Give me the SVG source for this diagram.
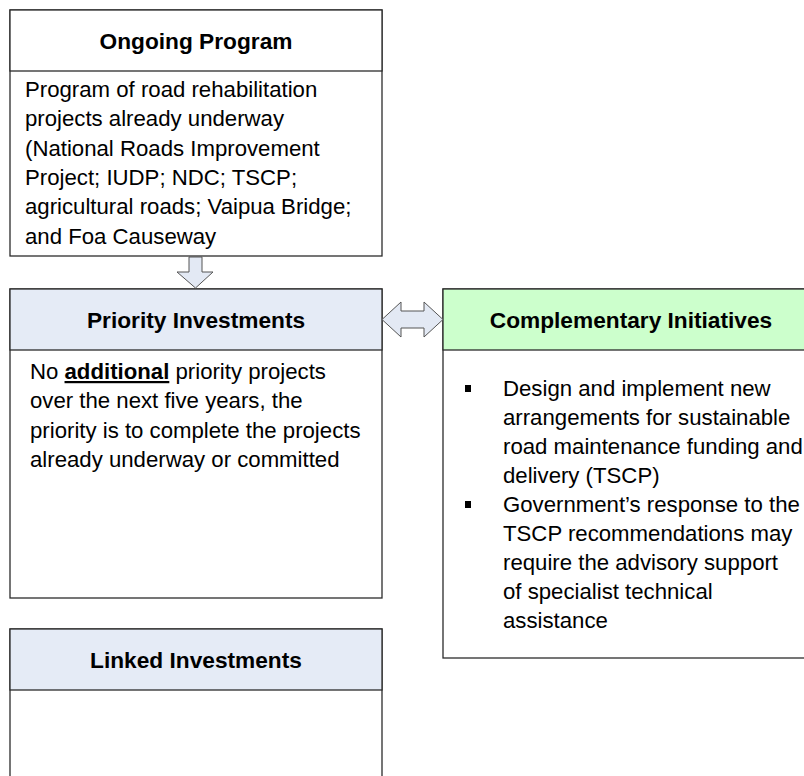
<svg xmlns="http://www.w3.org/2000/svg" width="804" height="776" viewBox="0 0 804 776">
<style>
.box{fill:#ffffff;stroke:#2b2b2b;stroke-width:1.3}
.hb{fill:#e5ebf6;stroke:#2b2b2b;stroke-width:1.3}
.hg{fill:#ccffcc;stroke:#2b2b2b;stroke-width:1.3}
.hw{fill:#ffffff;stroke:#2b2b2b;stroke-width:1.3}
.h{font-family:"Liberation Sans",Arial,sans-serif;font-weight:bold;font-size:22.7px;fill:#000;text-anchor:middle}
.t{font-family:"Liberation Sans",Arial,sans-serif;font-size:22.2px;fill:#000}
.arr{fill:#e3e9f4;stroke:#555;stroke-width:1}
</style>
<rect width="804" height="776" fill="#ffffff"/>
<g id="ongoing">
<rect class="box" x="10" y="10" width="372" height="246"/>
<rect class="hw" x="10" y="10" width="372" height="61"/>
<text class="h" x="196" y="48.5">Ongoing Program</text>
<text class="t" x="25" y="97">Program of road rehabilitation</text>
<text class="t" x="25" y="126.3">projects already underway</text>
<text class="t" x="25" y="155.6">(National Roads Improvement</text>
<text class="t" x="25" y="184.9">Project; IUDP; NDC; TSCP;</text>
<text class="t" x="25" y="214.2">agricultural roads; Vaipua Bridge;</text>
<text class="t" x="25" y="243.5">and Foa Causeway</text>
</g>
<g id="priority">
<rect class="box" x="10" y="289" width="372" height="309"/>
<rect class="hb" x="10" y="289" width="372" height="61"/>
<text class="h" x="196" y="327.5">Priority Investments</text>
<text class="t" x="30" y="379">No <tspan font-weight="bold" text-decoration="underline">additional</tspan> priority projects</text>
<text class="t" x="30" y="408.3">over the next five years, the</text>
<text class="t" x="30" y="437.6">priority is to complete the projects</text>
<text class="t" x="30" y="466.9">already underway or committed</text>
</g>
<g id="complementary">
<rect class="box" x="443" y="289" width="380" height="369"/>
<rect class="hg" x="443" y="289" width="380" height="61"/>
<text class="h" x="631" y="327.5">Complementary Initiatives</text>
<rect x="465" y="385" width="6" height="7" fill="#000"/>
<text class="t" x="503" y="396">Design and implement new</text>
<text class="t" x="503" y="425">arrangements for sustainable</text>
<text class="t" x="503" y="454">road maintenance funding and</text>
<text class="t" x="503" y="483">delivery (TSCP)</text>
<rect x="465" y="501" width="6" height="7" fill="#000"/>
<text class="t" x="503" y="512">Government’s response to the</text>
<text class="t" x="503" y="541">TSCP recommendations may</text>
<text class="t" x="503" y="570">require the advisory support</text>
<text class="t" x="503" y="599">of specialist technical</text>
<text class="t" x="503" y="628">assistance</text>
</g>
<g id="linked">
<rect class="box" x="10" y="629" width="372" height="200"/>
<rect class="hb" x="10" y="629" width="372" height="61"/>
<text class="h" x="196" y="667.5">Linked Investments</text>
</g>
<g id="connectors">
<polygon class="arr" points="189,257 202,257 202,272 213,272 195.5,288 177,272 189,272"/>
<polygon class="arr" points="382,319.5 401,302 401,311 424,311 424,302 443,319.5 424,337 424,328 401,328 401,337"/>
</g>
</svg>
